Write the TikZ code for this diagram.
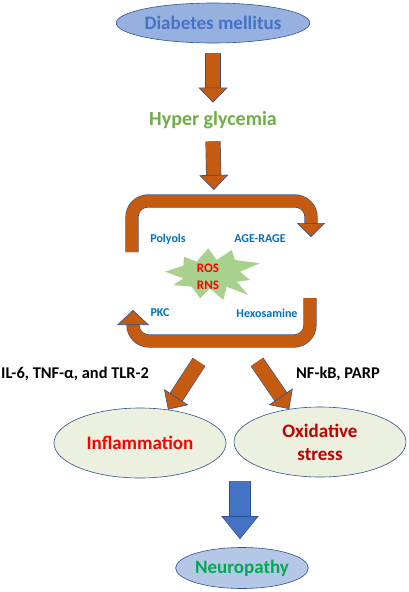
\documentclass[tikz,border=0pt]{standalone}
\usepackage{fontspec}
\setmainfont{Carlito}
\usetikzlibrary{arrows.meta,shapes.geometric,calc}

\definecolor{brick}{RGB}{197,90,17}
\definecolor{edge}{RGB}{47,82,143}
\definecolor{skyfill}{RGB}{150,177,224}
\definecolor{dmblue}{RGB}{68,114,196}
\definecolor{hgreen}{RGB}{112,173,71}
\definecolor{pathblue}{RGB}{0,112,192}
\definecolor{burst}{RGB}{169,209,142}
\definecolor{palegreen}{RGB}{235,241,222}
\definecolor{darkred}{RGB}{192,0,0}
\definecolor{neufill}{RGB}{180,199,231}
\definecolor{neugreen}{RGB}{0,170,85}

\tikzset{
  oval/.style={ellipse, draw=edge, line width=0.6pt, inner sep=0pt, font=\bfseries\fontsize{19}{23}\selectfont, align=center},
  fatarrow/.style={line width=14pt, draw=brick, -{Triangle[width=29pt,length=15pt,fill=brick,color=edge,line width=0.6pt]}, preaction={draw=edge, line width=15.2pt, -, shorten >=14pt}},
  looparrow/.style={line width=12pt, draw=brick, rounded corners=16pt, -{Triangle[width=28pt,length=14pt,fill=brick,color=edge,line width=0.6pt]}, preaction={draw=edge, line width=13.2pt, -, shorten >=13pt}},
  bighead/.style={-{Triangle[width=32pt,length=15pt,fill=brick,color=edge,line width=0.6pt]}},
  bluearrow/.style={line width=20pt, draw=dmblue, -{Triangle[width=37pt,length=23pt,fill=dmblue,color=edge,line width=0.6pt]}, preaction={draw=edge, line width=21.2pt, -, shorten >=22pt}},
  pathway/.style={text=pathblue, inner sep=0pt, font=\bfseries\fontsize{12}{14}\selectfont},
  cue/.style={inner sep=0pt, font=\bfseries\fontsize{16.4}{18}\selectfont}
}

\begin{document}
\begin{tikzpicture}[x=1pt,y=-1pt]
  \useasboundingbox (0,0) rectangle (408,592);
  % top of the chain
  \node[oval, fill=skyfill, text=dmblue, minimum width=153pt, minimum height=40pt] (dm) at (213,23) {Diabetes mellitus};
  \node[text=hgreen, inner sep=0pt, font=\bfseries\fontsize{20}{22}\selectfont] (hg) at (213,120.5) {Hyper glycemia};
  \coordinate (loopin) at (214,195);
  \draw[fatarrow] ([yshift=-10pt]dm.south) -- ([yshift=9pt]hg.north);
  \draw[fatarrow] ([yshift=-12pt]hg.south) -- ([yshift=5pt]loopin);

  % the loop
  \coordinate (ul) at (132,201);
  \coordinate (ur) at (311,201);
  \coordinate (lr) at (310,341);
  \coordinate (ll) at (133,341);
  \draw[looparrow] ($(ul)+(0,51)$) -- (ul) -- (ur) -- ($(ur)+(0,36)$);
  \draw[looparrow, bighead] ($(lr)+(0,-43)$) -- (lr) -- (ll) -- ($(ll)+(0,-31)$);
  \node[pathway] (pol) at (168,239) {Polyols};
  \node[pathway] (age) at (260,239) {AGE-RAGE};
  \node[pathway] (pkc) at (160,313) {PKC};
  \node[pathway] (hex) at (267,313) {Hexosamine};
  \fill[burst] (165,271.7) -- (183.3,265.7) -- (184,256.7) -- (196.7,261.7) -- (208.3,248.3)
    -- (216.7,260) -- (231.7,250) -- (235,260) -- (260,263.3) -- (240,271.7) -- (250,280)
    -- (236.7,281.7) -- (248.3,295) -- (226.7,286.7) -- (223.3,300) -- (210,288.3)
    -- (200,298.3) -- (191.7,286.7) -- (173.3,285) -- (183.3,278.3) -- cycle;
  \node[inner sep=0pt, align=center, text=red, font=\bfseries\fontsize{13}{17}\selectfont] (ros) at (208,277) {ROS\\RNS};

  % outcomes
  \node[cue, anchor=west] (il) at (1,374) {IL-6, TNF-α, and TLR-2};
  \node[cue] (nf) at (338,374) {NF-kB, PARP};
  \node[oval, fill=palegreen, text=red, minimum width=172pt, minimum height=70pt] (infl) at (140,443) {Inflammation};
  \node[oval, fill=palegreen, text=darkred, minimum width=172pt, minimum height=70pt] (ox) at (320,442) {Oxidative\\stress};
  \node[oval, fill=neufill, text=neugreen, minimum width=131pt, minimum height=41pt] (neu) at (242,568) {Neuropathy};
  \coordinate (lstart) at (199,362);
  \coordinate (rstart) at (257,362);
  \draw[fatarrow] (lstart) -- (infl.50);
  \draw[fatarrow] (rstart) -- (ox.133);
  \draw[bluearrow] ([xshift=-2pt,yshift=66pt]neu.north) -- ([xshift=-2pt,yshift=8pt]neu.north);
\end{tikzpicture}
\end{document}
